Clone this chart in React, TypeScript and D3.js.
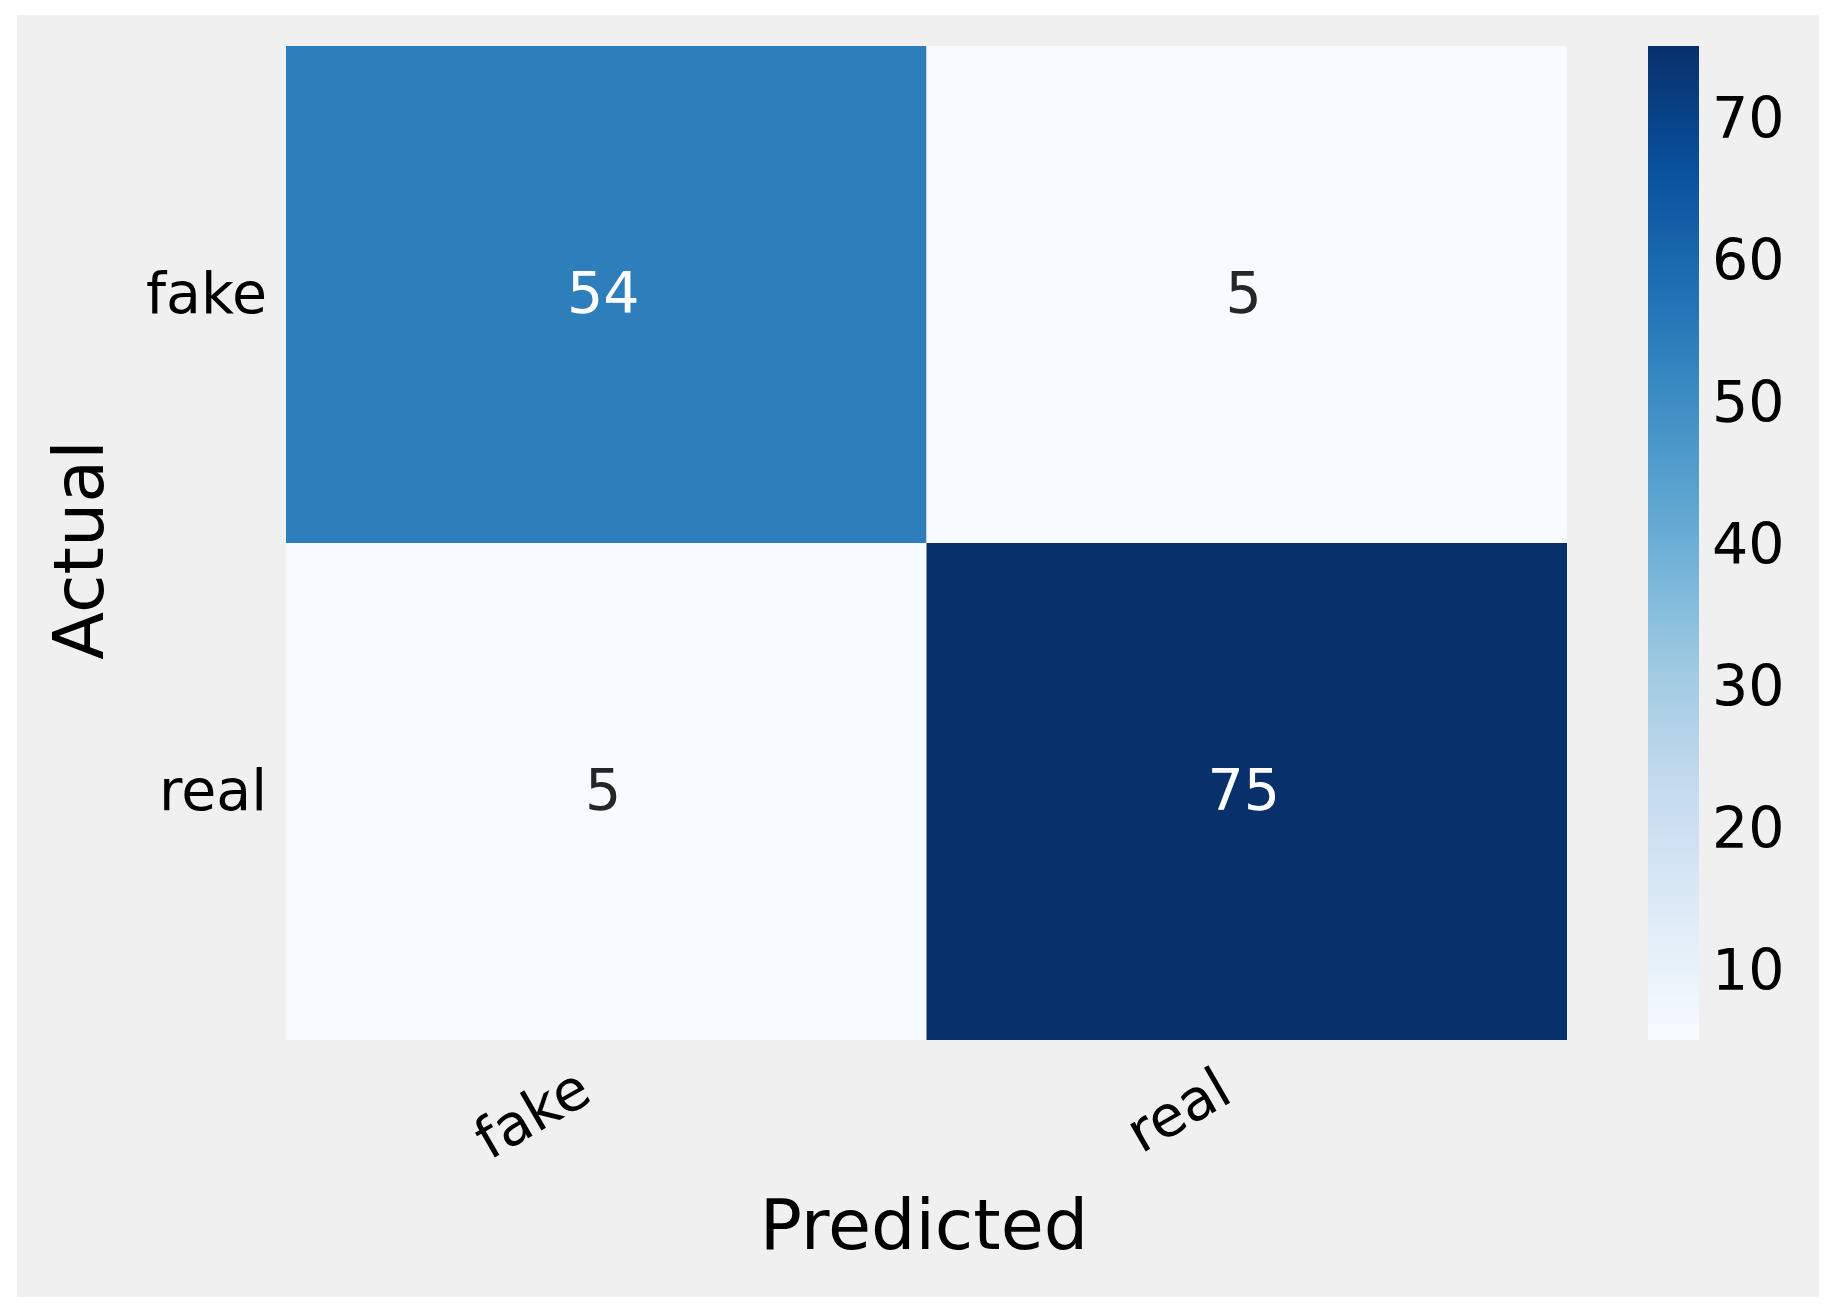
import React from "react";
import * as d3 from "d3";

const categories = ["fake", "real"];
const actualFakeRow = [54, 5];
const actualRealRow = [5, 75];
const colorbarTicks = [10, 20, 30, 40, 50, 60, 70];
const bluesStops = ["#f7fbff", "#deebf7", "#c6dbef", "#9ecae1", "#6baed6", "#4292c6", "#2171b5", "#08519c", "#08306b"];
const xLabel = "Predicted";
const yLabel = "Actual";

const W = 1833;
const H = 1311;
const FONT = "DejaVu Sans";

export default function App() {
  const rows = [actualFakeRow, actualRealRow];
  const all = rows.flat();
  const vmin = d3.min(all) as number;
  const vmax = d3.max(all) as number;

  const x = d3.scaleBand<string>().domain(categories).range([286, 1567]).padding(0);
  const y = d3.scaleBand<string>().domain(categories).range([46, 1040]).padding(0);

  const t = d3.scaleLinear().domain([vmin, vmax]).range([0, 1]);
  const stopDomain = bluesStops.map((_, i) => i / (bluesStops.length - 1));
  const cmap = d3.scaleLinear<string>().domain(stopDomain).range(bluesStops).interpolate(d3.interpolateRgb).clamp(true);
  const color = (v: number) => cmap(t(v));

  const cbX = 1648;
  const cbW = 51;
  const cbY = d3.scaleLinear().domain([vmin, vmax]).range([1040, 46]);

  const cells = rows.flatMap((row, i) =>
    row.map((v, j) => ({ r: categories[i], c: categories[j], v }))
  );

  const textColor = (v: number) => {
    const c = d3.rgb(color(v));
    const lin = (u: number) => {
      u /= 255;
      return u <= 0.03928 ? u / 12.92 : Math.pow((u + 0.055) / 1.055, 2.4);
    };
    const lum = 0.2126 * lin(c.r) + 0.7152 * lin(c.g) + 0.0722 * lin(c.b);
    return lum > 0.408 ? "#262626" : "#ffffff";
  };

  return (
    <svg width={W} height={H} style={{ position: "absolute", left: 0, top: 0 }} fontFamily={FONT}>
      <defs>
        <linearGradient id="cbgrad" x1="0" y1="1" x2="0" y2="0">
          {stopDomain.map((s, i) => (
            <stop key={i} offset={s} stopColor={bluesStops[i]} />
          ))}
        </linearGradient>
      </defs>
      <rect x={0} y={0} width={W} height={H} fill="#ffffff" />
      <rect x={17} y={15} width={1802} height={1282} fill="#f0f0f0" />

      {cells.map((d, i) => (
        <g key={i}>
          <rect
            x={x(d.c)}
            y={y(d.r)}
            width={x.bandwidth()}
            height={y.bandwidth()}
            fill={color(d.v)}
          />
          <text
            x={(x(d.c) as number) + x.bandwidth() / 2 - 3}
            y={(y(d.r) as number) + y.bandwidth() / 2 + 18}
            textAnchor="middle"
            fontSize={57}
            fill={textColor(d.v)}
          >
            {d.v}
          </text>
        </g>
      ))}

      {categories.map((c) => (
        <text
          key={"y" + c}
          x={267}
          y={(y(c) as number) + y.bandwidth() / 2 + 18}
          textAnchor="end"
          fontSize={57}
          fill="#000"
        >
          {c}
        </text>
      ))}

      {categories.map((c) => {
        const ax = (x(c) as number) + x.bandwidth() / 2 - 12;
        const ay = 1100;
        return (
          <text
            key={"x" + c}
            x={ax}
            y={ay}
            textAnchor="end"
            fontSize={57}
            fill="#000"
            transform={`rotate(-30 ${ax} ${ay})`}
          >
            {c}
          </text>
        );
      })}

      <text x={924} y={1249} textAnchor="middle" fontSize={70} fill="#000">
        {xLabel}
      </text>
      <text
        x={103}
        y={550}
        textAnchor="middle"
        fontSize={70}
        fill="#000"
        transform={`rotate(-90 103 550)`}
      >
        {yLabel}
      </text>

      <rect x={cbX} y={cbY(vmax)} width={cbW} height={cbY(vmin) - cbY(vmax)} fill="url(#cbgrad)" />
      {colorbarTicks.map((v) => (
        <text key={"cb" + v} x={1712} y={cbY(v) + 21} fontSize={57} fill="#000">
          {v}
        </text>
      ))}
    </svg>
  );
}
